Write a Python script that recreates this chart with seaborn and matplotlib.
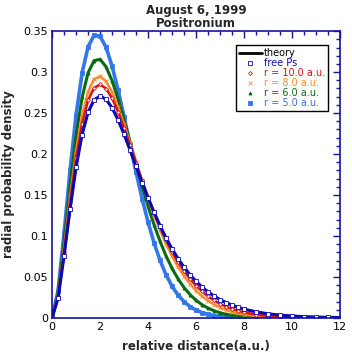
import numpy as np
import pandas as pd
import matplotlib
matplotlib.use("Agg")
import matplotlib.pyplot as plt
import seaborn as sns
from matplotlib.ticker import MultipleLocator

# ---------------- data ----------------
r_au = [0, 0.25, 0.5, 0.75, 1.0, 1.25, 1.5, 1.75, 2.0, 2.25, 2.5, 2.75, 3.0, 3.25,
        3.5, 3.75, 4.0, 4.25, 4.5, 4.75, 5.0, 5.25, 5.5, 5.75, 6.0, 6.25, 6.5, 6.75,
        7.0, 7.25, 7.5, 7.75, 8.0, 8.5, 9.0, 9.5, 10.0, 10.5, 11.0, 11.5, 12.0]

theory = [0, .0243, .0758, .1329, .1839, .2238, .2510, .2661, .2707, .2668, .2565,
          .2416, .2240, .2049, .1850, .1652, .1465, .1288, .1125, .0976, .0842, .0723,
          .0619, .0526, .0446, .0377, .0317, .0267, .0223, .0187, .0156, .0129, .0107,
          .0074, .0050, .0034, .0023, .0015, .0010, .0007, .0004]

free_ps = [0, .0243, .0758, .1329, .1839, .2238, .2510, .2661, .2707, .2668, .2565,
           .2416, .2240, .2049, .1850, .1652, .1465, .1288, .1125, .0976, .0842, .0723,
           .0619, .0526, .0446, .0377, .0317, .0267, .0223, .0187, .0156, .0129, .0107,
           .0074, .0050, .0034, .0023, .0015, .0010, .0007, .0004]

r10 = [0, .0259, .0807, .1413, .1953, .2372, .2655, .2808, .2849, .2799, .2681,
       .2514, .2320, .2110, .1893, .1678, .1475, .1284, .1109, .0950, .0807, .0682,
       .0572, .0476, .0394, .0324, .0264, .0214, .0172, .0138, .0110, .0086, .0068,
       .0041, .0024, .0014, .0008, .0004, .0002, .0001, .0001]

r8 = [0, .0271, .0844, .1476, .2037, .2471, .2761, .2914, .2948, .2888, .2756,
      .2574, .2362, .2136, .1902, .1672, .1456, .1253, .1067, .0900, .0752, .0622,
      .0510, .0414, .0332, .0265, .0208, .0163, .0126, .0097, .0073, .0055, .0041,
      .0022, .0012, .0006, .0003, .0002, .0001, .0000, .0000]

r6 = [0, .0299, .0928, .1619, .2227, .2691, .2993, .3140, .3156, .3065, .2895,
      .2671, .2416, .2147, .1874, .1608, .1362, .1136, .0934, .0756, .0604, .0476,
      .0370, .0284, .0215, .0161, .0119, .0087, .0063, .0045, .0032, .0023, .0016,
      .0008, .0004, .0002, .0001, .0000, .0000, .0000, .0000]

r5 = [0, .0334, .1038, .1808, .2481, .2989, .3309, .3450, .3438, .3302, .3073,
      .2780, .2454, .2114, .1776, .1456, .1168, .0915, .0701, .0526, .0386, .0278,
      .0198, .0138, .0095, .0065, .0043, .0029, .0019, .0013, .0008, .0005, .0004,
      .0001, .0000, .0000, .0000]

labels = ["theory", "free Ps", "r = 10.0 a.u.", "r = 8.0 a.u.", "r = 6.0 a.u.", "r = 5.0 a.u."]

# ---------------- style ----------------
sns.set_style("white")
plt.rcParams["font.family"] = ["DejaVu Sans"]

C_THEORY = "#000000"
C_FREE = "#0a0ab4"
C_R10 = "#e01010"
C_R8 = "#ff8a2a"
C_R6 = "#0a6a14"
C_R5 = "#3577ea"
AXC = "#1414a0"

fig = plt.figure(figsize=(3.52, 3.58), dpi=100)
ax = fig.add_axes([0.148, 0.112, 0.818, 0.801])

def draw(y, color, marker, mfc, label, lw=2.2, ms=2.0):
    xs = r_au[:len(y)]
    df = pd.DataFrame({"x": xs, "y": y})
    sns.lineplot(data=df, x="x", y="y", ax=ax, color=color, lw=lw,
                 marker=marker, markersize=ms, markerfacecolor=mfc,
                 markeredgecolor=color, markeredgewidth=0.6,
                 estimator=None, sort=False, label=label)

draw(theory, C_THEORY, None, None, labels[0], lw=1.5)
draw(r5, C_R5, "s", C_R5, labels[5], lw=2.6, ms=2.2)
draw(r6, C_R6, "^", C_R6, labels[4], lw=2.2, ms=2.2)
draw(r8, C_R8, "x", C_R8, labels[3], lw=1.8, ms=2.2)
draw(r10, C_R10, "D", "white", labels[2], lw=1.8, ms=2.0)
draw(free_ps, C_FREE, "s", "white", labels[1], lw=2.2, ms=2.2)

ax.set_xlim(0, 12)
ax.set_ylim(0, 0.35)
ax.xaxis.set_major_locator(MultipleLocator(2))
ax.xaxis.set_minor_locator(MultipleLocator(0.5))
ax.yaxis.set_major_locator(MultipleLocator(0.05))
ax.yaxis.set_minor_locator(MultipleLocator(0.01))
ax.set_yticks([0, 0.05, 0.1, 0.15, 0.2, 0.25, 0.3, 0.35])
ax.set_yticklabels(["0", "0.05", "0.1", "0.15", "0.2", "0.25", "0.3", "0.35"])
ax.tick_params(which="both", direction="in", top=True, right=True,
               color=AXC, labelsize=8, labelcolor="black", pad=3)
ax.tick_params(which="major", length=5, width=1)
ax.tick_params(which="minor", length=3, width=1)
for s in ax.spines.values():
    s.set_color(AXC)
    s.set_linewidth(1.2)

ax.set_xlabel("relative distance(a.u.)", fontsize=8.5, fontweight="bold", labelpad=6)
ax.set_ylabel("radial probability density", fontsize=8.5, fontweight="bold", labelpad=6)
ax.set_title("August 6, 1999\nPositronium", fontsize=8.5, fontweight="bold",
             linespacing=0.95, pad=3)

handles, labs = ax.get_legend_handles_labels()
order = [labs.index(l) for l in labels]
leg = ax.legend([handles[i] for i in order], [labs[i] for i in order],
                loc="upper right", bbox_to_anchor=(0.958, 0.951),
                fontsize=7, frameon=True, fancybox=False, framealpha=1,
                edgecolor="black", borderpad=0.3, labelspacing=0.0,
                handlelength=2.4, handletextpad=0.2, borderaxespad=0)
leg.get_frame().set_linewidth(1.0)
for t, c in zip(leg.get_texts(), [C_THEORY, C_FREE, C_R10, C_R8, C_R6, C_R5]):
    t.set_color(c)
leg.legend_handles[0].set_linewidth(2.0)
for h in leg.legend_handles[1:]:
    h.set_linestyle("none")

fig.savefig("out.png", dpi=100, facecolor="white")
